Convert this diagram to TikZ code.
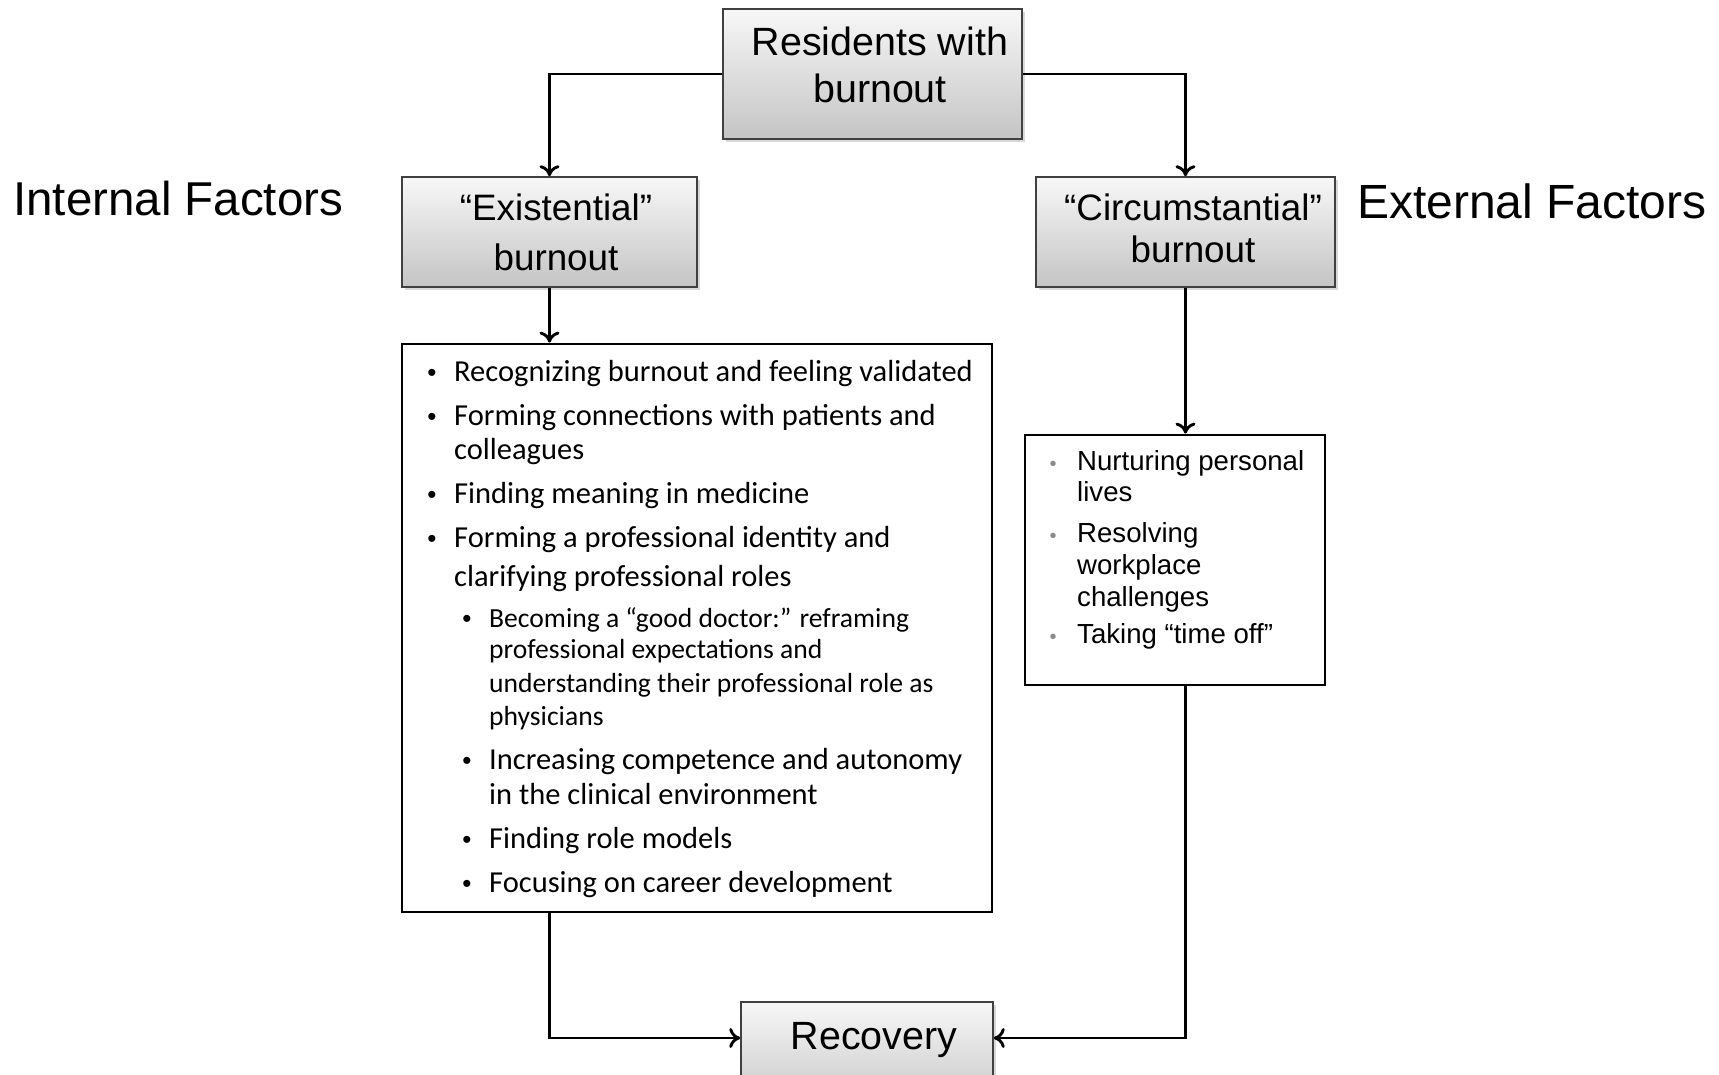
\documentclass[tikz,border=0pt]{standalone}
\usepackage{fontspec}
\setmainfont{Liberation Sans}
\newfontfamily\carlitofont{Carlito}
\usetikzlibrary{arrows.meta,shadows}
\begin{document}
\begin{tikzpicture}[x=1pt,y=-1pt,
  gbox/.style={draw=black!75, line width=1.6pt, top color=black!3, bottom color=black!23,
    drop shadow={opacity=0.3, shadow xshift=2.5pt, shadow yshift=-2.5pt}},
  lbox/.style={draw=black, line width=2.8pt, fill=white},
  conn/.style={line width=2.9pt, -{To[length=11pt,width=20pt]}},
  txt/.style={inner sep=0pt, anchor=base},
  txtw/.style={inner sep=0pt, anchor=base west},
  big/.style={font=\fontsize{39.4pt}{46pt}\selectfont},
  mid/.style={font=\fontsize{36.8pt}{44pt}\selectfont},
  one/.style={txtw, font=\carlitofont\fontsize{30.5pt}{36pt}\selectfont},
  two/.style={txtw, font=\carlitofont\fontsize{27.6pt}{33pt}\selectfont},
  bul/.style={txt, font=\fontsize{26pt}{30pt}\selectfont},
  rtx/.style={txtw, font=\fontsize{27.6pt}{32pt}\selectfont},
  rbul/.style={txt, text=black!45, font=\fontsize{20pt}{24pt}\selectfont},
]
\useasboundingbox (0,0) rectangle (1719,1074);

% boxes
\node[gbox, minimum width=299pt, minimum height=130pt] (top) at (872.5,74) {};
\node[gbox, minimum width=295pt, minimum height=110pt] (exist) at (549.5,232) {};
\node[gbox, minimum width=299pt, minimum height=110pt] (circ) at (1185.5,232) {};
\node[lbox, minimum width=590pt, minimum height=568pt] (llist) at (697,628) {};
\node[lbox, minimum width=300pt, minimum height=250pt] (rlist) at (1175,560) {};
\node[gbox, minimum width=252pt, minimum height=110pt] (rec) at (867,1057) {};

% box texts
\node[txt, big] (topA) at (880,55) {Residents with};
\node[txt, big] (topB) at (880,102) {burnout};
\node[txt, mid] (exA) at (556,220) {“Existential”};
\node[txt, mid] (exB) at (556,270) {burnout};
\node[txt, mid] (ciA) at (1193,220) {“Circumstantial”};
\node[txt, mid] (ciB) at (1193,262) {burnout};
\node[txt, big] (recT) at (874,1049) {Recovery};

% side labels
\node[txtw, font=\fontsize{47.5pt}{56pt}\selectfont] (intf) at (13,215) {Internal Factors};
\node[txtw, font=\fontsize{48pt}{56pt}\selectfont] (extf) at (1357,218) {External Factors};

% left list
\node[bul] (b1) at (432,381) {•};
\node[one] (l1) at (454,381) {Recognizing burnout and feeling validated};
\node[bul] (b2) at (432,425) {•};
\node[one] (l2) at (454,425) {Forming connections with patients and};
\node[one] (l3) at (454,459) {colleagues};
\node[bul] (b4) at (432,503) {•};
\node[one] (l4) at (454,503) {Finding meaning in medicine};
\node[bul] (b5) at (432,547) {•};
\node[one] (l5) at (454,547) {Forming a professional identity and};
\node[one] (l6) at (454,586) {clarifying professional roles};
\node[bul] (b7) at (467,627) {•};
\node[two] (l7) at (489,627) {Becoming a “good doctor:” reframing};
\node[two] (l8) at (489,658) {professional expectations and};
\node[two] (l9) at (489,692) {understanding their professional role as};
\node[two] (l10) at (489,725) {physicians};
\node[bul] (b11) at (467,769) {•};
\node[one] (l11) at (489,769) {Increasing competence and autonomy};
\node[one] (l12) at (489,804) {in the clinical environment};
\node[bul] (b13) at (467,848) {•};
\node[one] (l13) at (489,848) {Finding role models};
\node[bul] (b14) at (467,892) {•};
\node[one] (l14) at (489,892) {Focusing on career development};

% right list
\node[rbul] (rb1) at (1053,470) {•};
\node[rtx] (r1) at (1077,470) {Nurturing personal};
\node[rtx] (r2) at (1077,501) {lives};
\node[rbul] (rb3) at (1053,542) {•};
\node[rtx] (r3) at (1077,542) {Resolving};
\node[rtx] (r4) at (1077,574) {workplace};
\node[rtx] (r5) at (1077,606) {challenges};
\node[rbul] (rb6) at (1053,643) {•};
\node[rtx] (r6) at (1077,643) {Taking “time off”};

% connectors
\draw[conn] (top.west) -| (exist.north);
\draw[conn] (top.east) -| (circ.north);
\draw[conn] (exist.south) -- (llist.north -| exist.south);
\draw[conn] (circ.south) -- (rlist.north -| circ.south);
\draw[conn] (llist.south -| exist.south) |- (rec.west |- 0,1038);
\draw[conn] (rlist.south -| circ.south) |- (rec.east |- 0,1038);
\end{tikzpicture}
\end{document}
